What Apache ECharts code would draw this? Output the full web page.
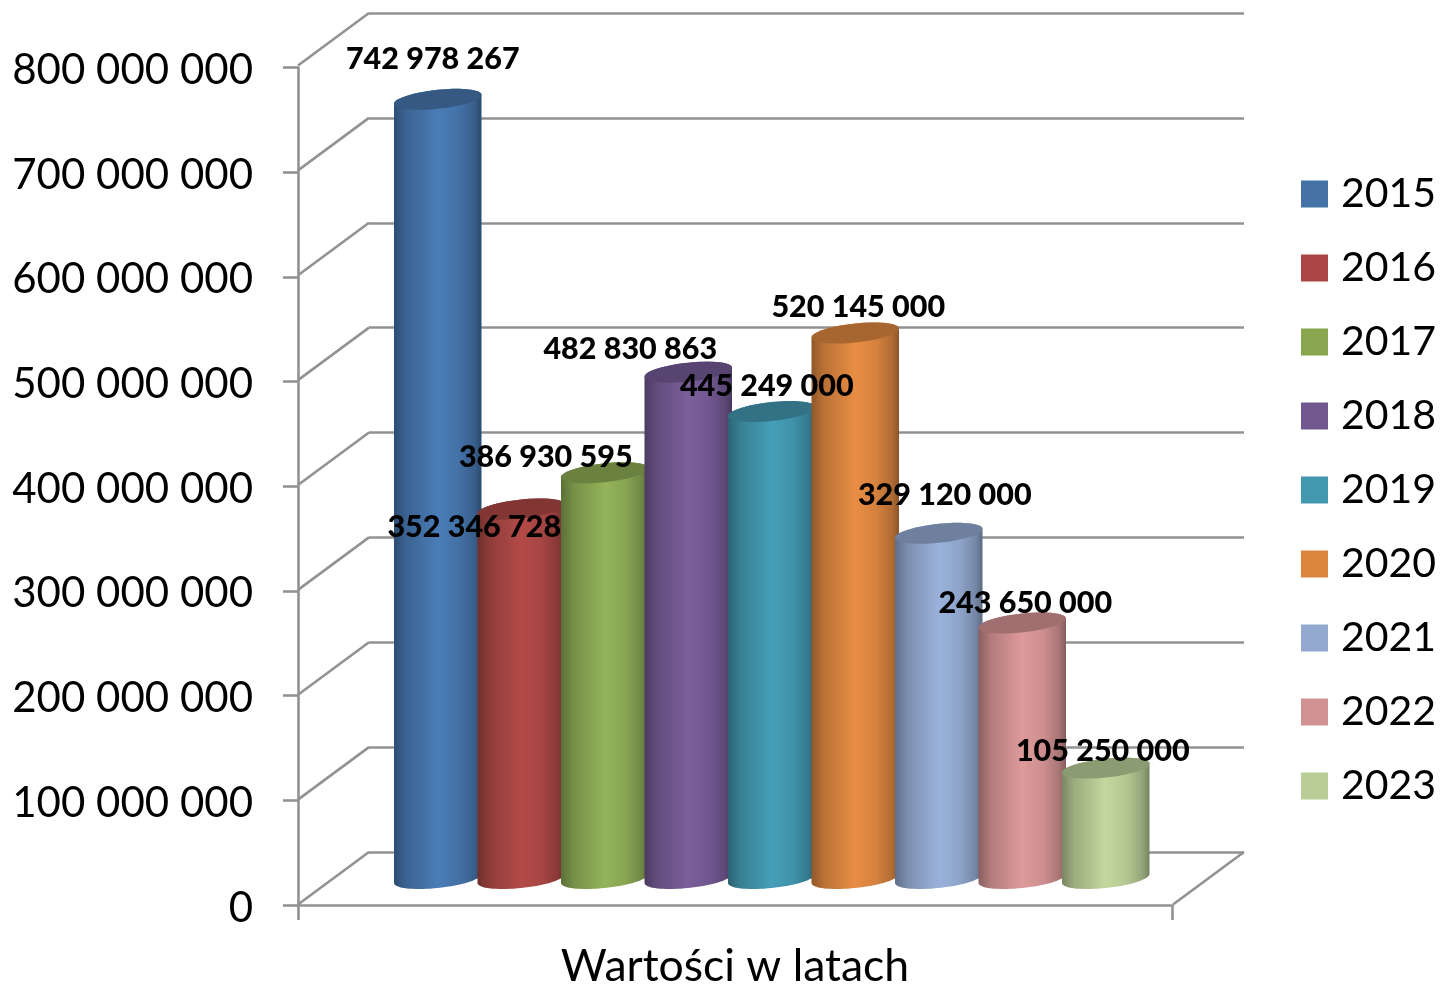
<!DOCTYPE html>
<html>
<head>
<meta charset="utf-8">
<style>html,body{margin:0;padding:0;background:#fff}#c{width:1441px;height:984px}</style>
<script src="https://cdn.jsdelivr.net/npm/echarts@6/dist/echarts.min.js"></script>
</head>
<body>
<div id="c"></div>
<script>
const years = ['2015','2016','2017','2018','2019','2020','2021','2022','2023'];
const values = [742978267,352346728,386930595,482830863,445249000,520145000,329120000,243650000,105250000];
const yTicks = [0,100000000,200000000,300000000,400000000,500000000,600000000,700000000,800000000];
const categoryName = ['Wartości w latach'];
const colors = ['#4572A7','#AA4643','#89A54E','#71588F','#4198AF','#DB843D','#93A9CF','#D19392','#B9CD96'];
const bodyColors = ['#4A7CB6','#B34B48','#94B359','#7A5F9B','#459FB8','#E88D43','#9AB2DB','#DF9A9B','#C3D89E'];
const labelShift = [[-5,-40],[-47,18],[-59,-16],[-58,-23],[-5,-25],[3,-26],[6,-38],[3,-20],[-3,-17]];

const FONT = 'Lato';
const GRID = '#929292';
const LW = 2.6;
const DEPTH_X = -71, DEPTH_Y = 52.5;

function shade(hex, f) {
  const n = parseInt(hex.slice(1), 16);
  const c = [n >> 16, (n >> 8) & 255, n & 255].map(v => Math.round(v * f));
  return 'rgb(' + c.join(',') + ')';
}
function arc(cx, cy, a, b, k, from, to) {
  const pts = [], N = 36;
  for (let i = 0; i <= N; i++) {
    const t = from + (to - from) * i / N;
    pts.push([cx + a * Math.cos(t), cy + b * Math.sin(t) - k * Math.cos(t)]);
  }
  return pts;
}
function cylinder(idx) {
  return function (params, api) {
    const top = api.coord([api.value(0), api.value(1)]);
    const base = api.coord([api.value(0), 0]);
    const a = api.size([1, 0])[0] * 0.524;
    const b = 9.5, k = 4.5, c = bodyColors[idx];
    const body = arc(top[0], top[1], a, b, k, Math.PI, 2 * Math.PI)
      .concat(arc(base[0], base[1], a, b, k, 0, Math.PI));
    const grad = {
      type: 'linear', x: 0, y: 0, x2: 1, y2: 0,
      colorStops: [
        {offset: 0, color: shade(c, 0.62)},
        {offset: 0.14, color: shade(c, 0.8)},
        {offset: 0.5, color: shade(c, 1)},
        {offset: 0.74, color: shade(c, 0.92)},
        {offset: 0.92, color: shade(c, 0.76)},
        {offset: 1, color: shade(c, 0.6)}
      ]
    };
    return {
      type: 'group',
      children: [
        {type: 'polygon', shape: {points: body}, style: {fill: grad}},
        {type: 'polygon', shape: {points: arc(top[0], top[1], a, b, k, 0, 2 * Math.PI)},
         style: {fill: shade(c, 0.72)}}
      ]
    };
  };
}

const series = [];
series.push({
  type: 'custom', xAxisIndex: 1, yAxisIndex: 1, silent: true, z: 1,
  data: yTicks.map(v => [0, v]),
  renderItem(params, api) {
    const p = api.coord([0, api.value(1)]);
    return {type: 'line', shape: {x1: p[0], y1: p[1], x2: p[0] + DEPTH_X, y2: p[1] + DEPTH_Y},
            style: {stroke: GRID, lineWidth: LW}};
  }
});
series.push({
  type: 'custom', xAxisIndex: 1, yAxisIndex: 1, silent: true, z: 1,
  data: [[1, 0]],
  renderItem(params, api) {
    const p = api.coord([1, 0]);
    return {type: 'line', shape: {x1: p[0], y1: p[1], x2: p[0] + DEPTH_X, y2: p[1] + DEPTH_Y},
            style: {stroke: GRID, lineWidth: LW}};
  }
});
years.forEach((y, i) => {
  series.push({
    name: y, type: 'custom', xAxisIndex: 2, yAxisIndex: 2, silent: true, z: 3 + i,
    itemStyle: {color: colors[i]},
    data: [[i, values[i]]],
    encode: {x: 0, y: 1},
    renderItem: cylinder(i)
  });
});
series.push({
  type: 'custom', xAxisIndex: 2, yAxisIndex: 2, silent: true, z: 30,
  data: values.map((v, i) => [i, v]),
  renderItem(params, api) {
    const p = api.coord([api.value(0), api.value(1)]);
    const s = labelShift[params.dataIndex];
    return {
      type: 'text', z2: 100,
      style: {
        x: p[0] + s[0], y: p[1] + s[1],
        text: String(api.value(1)).replace(/\B(?=(\d{3})+$)/g, ' '),
        font: '900 30.5px ' + FONT, fill: '#000', align: 'center', verticalAlign: 'middle'
      }
    };
  }
});

const option = {
  animation: false,
  backgroundColor: '#fff',
  legend: {
    data: years, orient: 'vertical', left: 1301, top: 172, padding: 0,
    icon: 'rect', itemWidth: 27, itemHeight: 27, itemGap: 30, selectedMode: false,
    textStyle: {fontFamily: FONT, fontSize: 41, color: '#000', lineHeight: 44, padding: [0,0,0,8]}
  },
  grid: [
    {left: 298, top: 67.5, width: 874, height: 837.5, outerBoundsMode: 'none', containLabel: false},
    {left: 369, top: 13, width: 875, height: 839, outerBoundsMode: 'none'},
    {left: 396, top: 39.5, width: 751.5, height: 839, outerBoundsMode: 'none'}
  ],
  xAxis: [
    {gridIndex: 0, type: 'category', data: categoryName,
     axisLine: {lineStyle: {color: GRID, width: LW}},
     axisTick: {show: true, length: 15, alignWithLabel: false, lineStyle: {color: GRID, width: LW}},
     axisLabel: {fontFamily: FONT, fontSize: 44.5, color: '#000', margin: 39}},
    {gridIndex: 1, type: 'value', min: 0, max: 1, show: false},
    {gridIndex: 2, type: 'category', data: years, show: false}
  ],
  yAxis: [
    {gridIndex: 0, type: 'value', min: 0, max: 800000000, interval: 100000000,
     axisLine: {show: true, lineStyle: {color: GRID, width: LW}},
     axisTick: {show: true, length: 15, lineStyle: {color: GRID, width: LW}},
     splitLine: {show: false},
     axisLabel: {fontFamily: FONT, fontSize: 42, color: '#000', margin: 45,
       verticalAlign: 'top', lineHeight: 6,
       formatter: v => String(v).replace(/\B(?=(\d{3})+$)/g, ' ')}},
    {gridIndex: 1, type: 'value', min: 0, max: 800000000, interval: 100000000,
     axisLine: {show: false}, axisTick: {show: false}, axisLabel: {show: false},
     splitLine: {show: true, lineStyle: {color: GRID, width: LW}}},
    {gridIndex: 2, type: 'value', min: 0, max: 800000000, show: false}
  ],
  series
};
echarts.init(document.getElementById('c'), null, {renderer: 'canvas'}).setOption(option);
</script>
</body>
</html>
